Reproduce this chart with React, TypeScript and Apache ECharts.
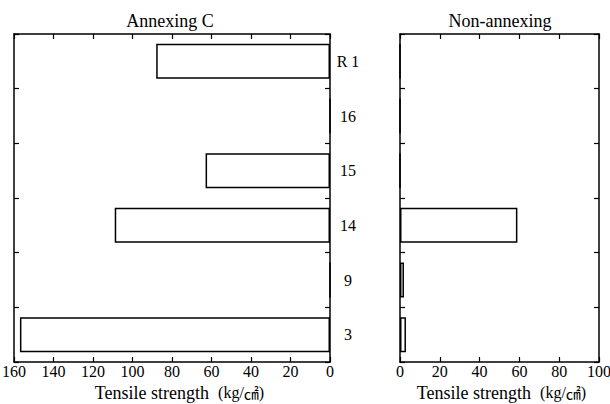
import React, { useEffect, useRef } from "react";
import * as echarts from "echarts";

const categories = ["R 1", "16", "15", "14", "9", "3"];
const annexingC = [88, 0, 63, 109, 0, 157];
const nonAnnexing = [0, 0, 0, 59, 2, 3];
const titles = ["Annexing C", "Non-annexing"];
const axisName = "Tensile strength";

const FONT = "Liberation Serif";
const CJK = "Noto Sans CJK JP";

export default function App() {
  const ref = useRef<HTMLDivElement>(null);
  useEffect(() => {
    if (!ref.current) return;
    const chart = echarts.init(ref.current, null, { renderer: "svg" });
    const line = { show: true, onZero: false, lineStyle: { color: "#000", width: 1.5 } };
    const tick = { show: true, inside: true, length: 5, lineStyle: { color: "#000", width: 1.2 } };
    const makeName = (padLeft: number) => ({
      name: `{t|${axisName}}  {u|(kg/}{c|㎠}{u|)}`,
      nameLocation: "middle" as const,
      nameGap: 16,
      nameTextStyle: {
        fontFamily: FONT,
        fontSize: 18,
        color: "#000",
        padding: [0, 0, 0, padLeft],
        rich: {
          t: { fontFamily: FONT, fontSize: 18, color: "#000" },
          u: { fontFamily: FONT, fontSize: 16, color: "#000" },
          c: { fontFamily: CJK, fontSize: 15, color: "#000" },
        },
      },
    });
    const label = { fontFamily: FONT, fontSize: 16, color: "#000", margin: 1 };
    const hidden = { show: false };
    const titleStyle = { fontFamily: FONT, fontSize: 18, fontWeight: "normal" as const, color: "#000" };
    chart.setOption({
      animation: false,
      backgroundColor: "#fff",
      textStyle: { fontFamily: FONT },
      title: [
        { text: titles[0], left: 165, top: 7, textAlign: "center", textStyle: titleStyle },
        { text: titles[1], left: 495, top: 7, textAlign: "center", textStyle: titleStyle },
      ],
      grid: [
        { left: 14, right: 280, top: 34, bottom: 42, containLabel: false, outerBoundsMode: "none" },
        { left: 400, right: 11, top: 34, bottom: 42, containLabel: false, outerBoundsMode: "none" },
      ],
      xAxis: [
        { type: "value", gridIndex: 0, min: 0, max: 160, interval: 20, inverse: true, position: "bottom", axisLine: line, axisTick: tick, axisLabel: label, splitLine: hidden, ...makeName(15) },
        { type: "value", gridIndex: 0, min: 0, max: 160, interval: 20, inverse: true, position: "top", axisLine: line, axisTick: tick, axisLabel: hidden, splitLine: hidden },
        { type: "value", gridIndex: 1, min: 0, max: 100, interval: 20, position: "bottom", axisLine: line, axisTick: tick, axisLabel: label, splitLine: hidden, ...makeName(4) },
        { type: "value", gridIndex: 1, min: 0, max: 100, interval: 20, position: "top", axisLine: line, axisTick: tick, axisLabel: hidden, splitLine: hidden },
      ],
      yAxis: [
        { type: "category", gridIndex: 0, data: categories, inverse: true, position: "right", axisLine: line, axisTick: tick, axisLabel: { fontFamily: FONT, fontSize: 16, color: "#000", align: "center", margin: 18 }, splitLine: hidden },
        { type: "category", gridIndex: 0, data: categories, inverse: true, position: "left", axisLine: line, axisTick: tick, axisLabel: hidden, splitLine: hidden },
        { type: "category", gridIndex: 1, data: categories, inverse: true, position: "left", axisLine: line, axisTick: tick, axisLabel: hidden, splitLine: hidden },
        { type: "category", gridIndex: 1, data: categories, inverse: true, position: "right", axisLine: line, axisTick: tick, axisLabel: hidden, splitLine: hidden },
      ],
      series: [
        { type: "bar", xAxisIndex: 0, yAxisIndex: 0, data: annexingC, barWidth: "64%", itemStyle: { color: "#fff", borderColor: "#000", borderWidth: 1.5 } },
        { type: "bar", xAxisIndex: 2, yAxisIndex: 2, data: nonAnnexing, barWidth: "64%", itemStyle: { color: "#fff", borderColor: "#000", borderWidth: 1.5 } },
      ],
    });
    return () => chart.dispose();
  }, []);
  return <div ref={ref} style={{ width: 610, height: 404, position: "absolute", left: 0, top: 0 }} />;
}
